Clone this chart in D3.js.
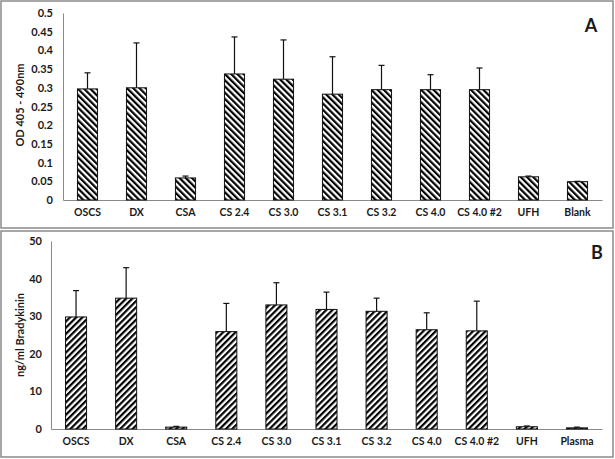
<!DOCTYPE html>
<html><head><meta charset="utf-8">
<script src="https://cdn.jsdelivr.net/npm/d3@7"></script>
<style>body{margin:0;background:#fff}svg{display:block}text{font-family:Lato,"Open Sans",sans-serif;font-weight:bold;fill:#1a1a1a}</style>
</head><body>
<svg id="c" width="615" height="459"></svg>
<script>
const categoriesA = ["OSCS","DX","CSA","CS 2.4","CS 3.0","CS 3.1","CS 3.2","CS 4.0","CS 4.0 #2","UFH","Blank"];
const valuesA = [0.297,0.300,0.059,0.337,0.323,0.283,0.295,0.295,0.295,0.062,0.049];
const errTopA = [0.340,0.420,0.064,0.436,0.428,0.383,0.360,0.335,0.353,0.064,0.050];
const ticksA = [0,0.05,0.1,0.15,0.2,0.25,0.3,0.35,0.4,0.45,0.5];

const categoriesB = ["OSCS","DX","CSA","CS 2.4","CS 3.0","CS 3.1","CS 3.2","CS 4.0","CS 4.0 #2","UFH","Plasma"];
const valuesB = [29.8,34.8,0.5,25.9,33.0,31.8,31.3,26.4,26.1,0.6,0.3];
const errTopB = [36.8,42.9,0.7,33.4,38.9,36.4,34.8,30.9,34.0,0.8,0.5];
const ticksB = [0,10,20,30,40,50];

const svg = d3.select("#c");
const defs = svg.append("defs");
function hatch(id, angle){
  const p = defs.append("pattern").attr("id",id).attr("patternUnits","userSpaceOnUse")
    .attr("width",4.4).attr("height",4.4).attr("patternTransform",`rotate(${angle})`);
  p.append("rect").attr("width",4.4).attr("height",4.4).attr("fill","#fff");
  p.append("rect").attr("width",2.2).attr("height",4.4).attr("fill","#000");
}
hatch("hA",-45); hatch("hB",45);

// panel borders
svg.append("rect").attr("x",1).attr("y",1).attr("width",612).attr("height",227).attr("fill","none").attr("stroke","#8a8a8a").attr("stroke-width",1.5);
svg.append("rect").attr("x",1).attr("y",231).attr("width",612).attr("height",226).attr("fill","none").attr("stroke","#8a8a8a").attr("stroke-width",1.5);

function panel(o){
  const g = svg.append("g");
  const x = d3.scaleBand().domain(o.cats).range([o.x0,o.x1]).paddingInner(o.pad).paddingOuter(o.pad/2);
  const y = d3.scaleLinear().domain(o.dom).range([o.y0,o.y1]);
  const ya = g.append("g").attr("transform",`translate(${o.x0},0)`)
    .call(d3.axisLeft(y).tickValues(o.ticks).tickSize(0).tickPadding(o.tpad).tickFormat(d=>String(d)));
  ya.select(".domain").attr("stroke","#8a8a8a").attr("stroke-width",1);
  ya.selectAll("text").attr("font-size",11).attr("font-family","Lato,sans-serif").attr("font-weight","900").attr("fill","#1a1a1a");
  const xa = g.append("g").attr("transform",`translate(0,${o.y0})`)
    .call(d3.axisBottom(x).tickSize(0).tickPadding(o.xpad));
  xa.select(".domain").attr("stroke","#8a8a8a").attr("stroke-width",1.2);
  xa.selectAll("text").attr("font-size",10.5).attr("font-family","Lato,sans-serif").attr("font-weight","900").attr("fill","#1a1a1a");
  g.selectAll("rect.bar").data(o.cats).join("rect").attr("class","bar")
    .attr("x",d=>x(d)).attr("width",x.bandwidth())
    .attr("y",(d,i)=>y(o.vals[i])).attr("height",(d,i)=>o.y0-y(o.vals[i]))
    .attr("fill",`url(#${o.pat})`).attr("stroke","#111").attr("stroke-width",1);
  const eb = g.selectAll("g.eb").data(o.cats).join("g").attr("class","eb");
  eb.append("line").attr("x1",d=>x(d)+x.bandwidth()/2).attr("x2",d=>x(d)+x.bandwidth()/2)
    .attr("y1",(d,i)=>y(o.vals[i])).attr("y2",(d,i)=>y(o.errs[i])).attr("stroke","#111").attr("stroke-width",1.2);
  eb.append("line").attr("x1",d=>x(d)+x.bandwidth()/2-3).attr("x2",d=>x(d)+x.bandwidth()/2+3)
    .attr("y1",(d,i)=>y(o.errs[i])).attr("y2",(d,i)=>y(o.errs[i])).attr("stroke","#111").attr("stroke-width",1.2);
  g.append("text").attr("transform",`translate(${o.tx},${o.ty}) rotate(-90)`).attr("text-anchor","middle")
    .attr("dominant-baseline","middle").attr("font-size",11).attr("font-weight","900").text(o.title);
  g.append("text").attr("x",o.lx).attr("y",o.ly).attr("text-anchor","middle").attr("font-size",18).attr("font-family","Liberation Sans,Arial,sans-serif").text(o.letter);
}

panel({cats:categoriesA, vals:valuesA, errs:errTopA, ticks:ticksA, dom:[0,0.5],
  x0:63, x1:602, y0:200, y1:13, pad:0.59, tpad:10, xpad:9, pat:"hA",
  title:"OD 405 - 490nm", tx:21, ty:105, letter:"A", lx:591, ly:32});
panel({cats:categoriesB, vals:valuesB, errs:errTopB, ticks:ticksB, dom:[0,50],
  x0:51, x1:602, y0:429, y1:241, pad:0.58, tpad:9, xpad:9, pat:"hB",
  title:"ng/ml Bradykinin", tx:21, ty:335, letter:"B", lx:597, ly:259});
</script>
</body></html>
